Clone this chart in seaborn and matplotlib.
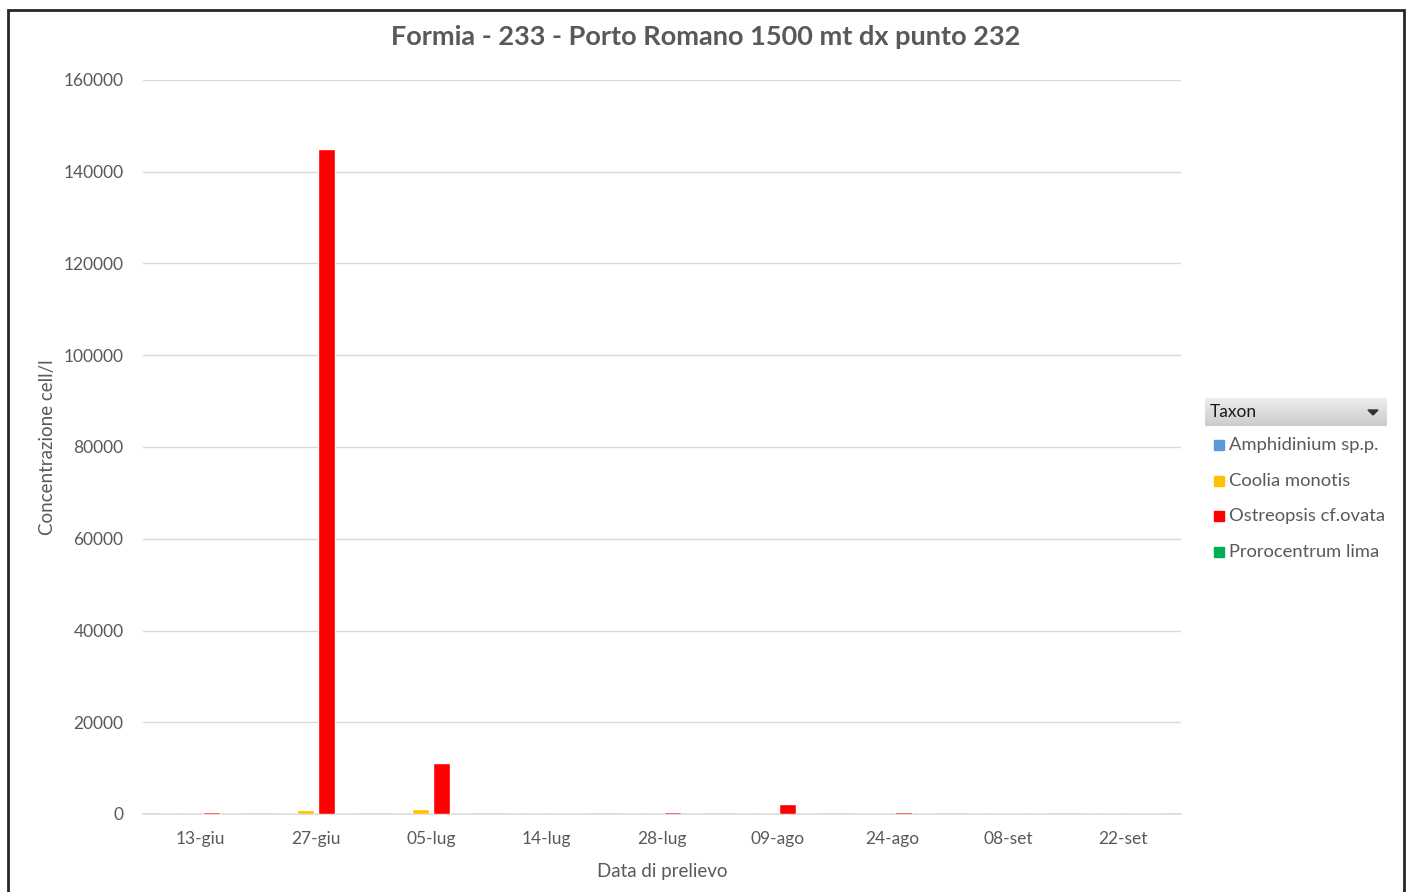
import matplotlib
matplotlib.use("Agg")
import matplotlib.pyplot as plt
import seaborn as sns
import pandas as pd
from matplotlib.patches import Rectangle
import numpy as np

dates = ["13-giu", "27-giu", "05-lug", "14-lug", "28-lug", "09-ago", "24-ago", "08-set", "22-set"]
taxa = ["Amphidinium sp.p.", "Coolia monotis", "Ostreopsis cf.ovata", "Prorocentrum lima"]
amphidinium = [0, 0, 0, 0, 0, 0, 0, 0, 0]
coolia = [0, 800, 1100, 0, 0, 0, 0, 0, 0]
ostreopsis = [400, 145000, 11200, 0, 350, 2100, 350, 0, 0]
prorocentrum = [0, 0, 0, 0, 0, 0, 0, 0, 0]
colors = ["#5B9BD5", "#FFC000", "#FF0000", "#00B050"]

rows = []
for t, vals in zip(taxa, [amphidinium, coolia, ostreopsis, prorocentrum]):
    for d, v in zip(dates, vals):
        rows.append({"Data": d, "Taxon": t, "Valore": v})
df = pd.DataFrame(rows)

sns.set_theme(style="white")
plt.rcParams["font.family"] = ["Lato", "DejaVu Sans"]

W, H = 1408, 892
fig = plt.figure(figsize=(W / 100, H / 100), dpi=100)
ax = fig.add_axes([143 / W, (H - 814) / H, (1181 - 143) / W, (814 - 80) / H])

sns.barplot(data=df, x="Data", y="Valore", hue="Taxon", order=dates, hue_order=taxa,
            palette=colors, width=0.73, gap=0.19, ax=ax, legend=False,
            errorbar=None, saturation=1, zorder=3)

ax.set_xlim(-0.5, len(dates) - 0.5)
ax.set_ylim(0, 160000)
ax.set_yticks(np.arange(0, 160001, 20000))
ax.set_yticklabels([str(v) for v in range(0, 160001, 20000)])
ax.yaxis.grid(True, color="#D9D9D9", linewidth=1)
ax.set_axisbelow(True)
for s in ["left", "right", "top"]:
    ax.spines[s].set_visible(False)
ax.spines["bottom"].set_color("#D9D9D9")
ax.spines["bottom"].set_linewidth(1.2)
ax.spines["bottom"].set_zorder(1)
ax.tick_params(axis="both", length=0, colors="#595959", labelsize=12.5)
ax.tick_params(axis="x", pad=12)
ax.tick_params(axis="y", pad=14)
ax.set_xlabel("Data di prelievo", fontsize=13.5, color="#595959", labelpad=12)
ax.set_ylabel("Concentrazione cell/l", fontsize=13.5, color="#595959", labelpad=5)

fig.text(706 / W, (H - 37) / H, "Formia - 233 - Porto Romano 1500 mt dx punto 232",
         ha="center", va="center", fontsize=19.5, fontweight="bold", color="#595959")

# legend header with gradient
grad = np.linspace(0.93, 0.80, 50).reshape(-1, 1)
hx0, hx1, hy0, hy1 = 1205, 1387, H - 426, H - 398
lax = fig.add_axes([hx0 / W, hy0 / H, (hx1 - hx0) / W, (hy1 - hy0) / H])
lax.imshow(np.dstack([grad, grad, grad]), aspect="auto", extent=[0, 1, 0, 1], origin="upper")
lax.set_axis_off()
fig.text(1210 / W, (H - 412) / H, "Taxon", ha="left", va="center", fontsize=12.5, color="#1a1a1a")
fig.patches.append(plt.Polygon([[1368 / W, (H - 410) / H], [1378 / W, (H - 410) / H], [1373 / W, (H - 415) / H]],
                               closed=True, transform=fig.transFigure, color="#333333"))

ys = [445, 481, 516, 552]
for t, c, y in zip(taxa, colors, ys):
    fig.patches.append(Rectangle((1214 / W, (H - y - 5) / H), 10 / W, 10 / H,
                                 transform=fig.transFigure, color=c))
    fig.text(1229 / W, (H - y) / H, t, ha="left", va="center", fontsize=13.2, color="#595959")

# outer border
fig.patches.append(Rectangle((8 / W, -5 / H), (1404 - 8) / W, (H - 10 + 5) / H,
                             transform=fig.transFigure, fill=False, edgecolor="#262626", linewidth=2))

fig.savefig("out.png", dpi=100)
